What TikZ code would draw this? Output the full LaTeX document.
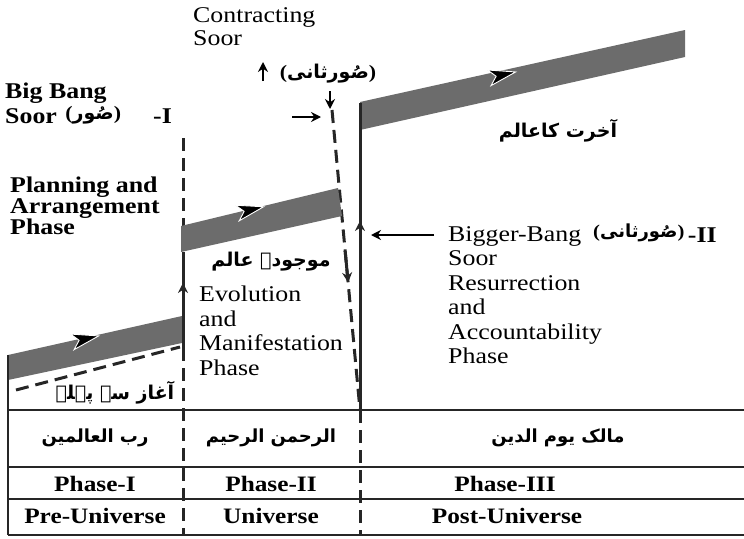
\documentclass[tikz,border=0pt]{standalone}
\usepackage{fontspec}
\setmainfont{Liberation Serif}[FakeStretch=1.15]
\newfontfamily\urdufont[Script=Arabic]{DejaVu Sans}
\TeXXeTstate=1
\usepackage{tikz}
\usetikzlibrary{arrows.meta, calc, positioning}
\definecolor{bandgray}{RGB}{108,108,108}
\definecolor{linedark}{RGB}{38,38,38}
\newcommand\urop{{\rmfamily\bfseries(}}
\newcommand\urcl{{\rmfamily\bfseries)}}
\tikzset{
  >={Stealth[length=10pt,width=10pt]},
  band/.style={fill=bandgray},
  solidline/.style={linedark, line width=3pt},
  dashline/.style={linedark, line width=3pt, dash pattern=on 13pt off 7pt},
  gridline/.style={linedark, line width=2.5pt},
  pointer/.style={->, line width=1.8pt, black},
  lbl/.style={font=\fontsize{22.5}{24.5}\selectfont, align=left, inner sep=0pt},
  boldlbl/.style={font=\fontsize{22.5}{20.5}\selectfont\bfseries, align=left, inner sep=0pt},
  celltext/.style={font=\fontsize{22}{24}\selectfont\bfseries, inner sep=0pt},
  urdulbl/.style={font=\urdufont\bfseries\fontsize{19}{22}\selectfont, inner sep=0pt},
  urducell/.style={font=\urdufont\bfseries\fontsize{18}{22}\selectfont, inner sep=0pt},
  pics/banddart/.style={code={
    \fill[black, draw=white, line width=0.9pt]
      (14,0) -- (-13,-8) -- (-6,0) -- (-13,8) -- cycle;
  }},
}
\begin{document}
\begin{tikzpicture}[x=1pt, y=-1pt]
  \useasboundingbox (0,0) rectangle (744,538);

  % division lines
  \coordinate (bbTop) at (183,138);
  \coordinate (bbBandTop) at (183,226);
  \coordinate (bbBandBot) at (183,252);
  \coordinate (bbMid) at (183,348);
  \coordinate (bbFoot) at (183,535);
  \coordinate (ctTop) at (332,110);
  \coordinate (ctFoot) at (360,410);
  \coordinate (rsTop) at (360,103);
  \coordinate (rsFoot) at (360,410);
  \coordinate (rsTable) at (360,535);

  \draw[dashline] (bbTop) -- (bbBandTop);
  \draw[dashline] (bbMid) -- (bbFoot);
  \draw[dashline] (ctTop) -- (ctFoot);
  \draw[dashline] (rsFoot) -- (rsTable);
  \draw[dashline] (16,390) -- (180,347);

  % bands
  \fill[band] (8,355) -- (182,316) -- (182,343) -- (8,380) -- cycle;
  \fill[band] (181,226) -- (338,188) -- (342,216) -- (181,252) -- cycle;
  \fill[band] (360,102) -- (685,30) -- (685,57) -- (360,130) -- cycle;

  \pic[rotate=12.7] at (85,339) {banddart};
  \pic[rotate=13.4] at (250,210) {banddart};
  \pic[rotate=12.5] at (502,75) {banddart};

  % solid lines with arrows
  \draw[solidline, ->] (bbMid) -- (183,283);
  \draw[solidline] (183,292) -- (bbBandBot);
  \draw[solidline, ->] (rsFoot) -- (360,221);
  \draw[solidline] (360,230) -- (rsTop);
  \draw[solidline, ->] ($(ctTop)!0.47!(ctFoot)$) -- ($(ctTop)!0.575!(ctFoot)$);

  % table
  \draw[gridline] (8,355) -- (8,535);
  \foreach \yr in {410,467,499,535}{
    \draw[gridline] (8,\yr) -- (744,\yr);
  }

  % pointers
  \coordinate (upFrom) at (263,81);
  \coordinate (upTo) at (263,62);
  \coordinate (downFrom) at (330,91);
  \coordinate (downTo) at (330,109);
  \coordinate (rightFrom) at (292,117);
  \coordinate (rightTo) at (321,117);
  \coordinate (leftFrom) at (434,235);
  \coordinate (leftTo) at (371,235);
  \draw[pointer] (upFrom) -- (upTo);
  \draw[pointer] (downFrom) -- (downTo);
  \draw[pointer] (rightFrom) -- (rightTo);
  \draw[pointer] (leftFrom) -- (leftTo);

  % labels
  \node[boldlbl, anchor=base west] (bigbang) at (5,98) {Big Bang};
  \node[boldlbl, anchor=base west] (soorI) at (5,123) {Soor};
  \node[urdulbl, right=8pt of soorI] (soorIur) {\urop\beginR صُور\endR\urcl};
  \node[boldlbl, anchor=base west] (phaseI) at (153,123) {-I};
  \node[lbl, anchor=base west] (contracting) at (193,22) {Contracting};
  \node[lbl, anchor=base west] (soorC) at (193,45) {Soor};
  \node[urdulbl] (soorCur) at (328,74) {\urop\beginR صُورثانی\endR\urcl};
  \node[boldlbl, anchor=north west] (planning) at (10,177)
    {Planning and\\Arrangement\\Phase};
  \node[lbl, anchor=north west] (evolution) at (199,286)
    {Evolution\\and\\Manifestation\\Phase};
  \node[lbl, anchor=north west] (bigger) at (448,226)
    {Bigger-Bang\\Soor\\Resurrection\\and\\Accountability\\Phase};
  \node[urducell, anchor=west] (soorRur) at (593,233) {\urop\beginR صُورثانی\endR\urcl};
  \node[boldlbl, anchor=base west] (phaseII) at ([xshift=3pt]soorRur.east |- 0,242) {-II};
  \node[urdulbl] (akhirat) at (558,131) {\beginR آخرت کاعالم\endR};
  \node[urdulbl] (mojooda) at (271,262) {\beginR موجودہ عالم\endR};
  \node[urdulbl] (aaghaz) at (115,393) {\beginR آغاز سے پہلے\endR};

  % table texts
  \node[urducell] (rab) at (95,438) {\beginR رب العالمین\endR};
  \node[urducell] (rahman) at (271,438) {\beginR الرحمن الرحیم\endR};
  \node[urducell] (malik) at (558,438) {\beginR مالک یوم الدین\endR};
  \node[celltext, anchor=base] (ph1) at (95,491) {Phase-I};
  \node[celltext, anchor=base] (ph2) at (271,491) {Phase-II};
  \node[celltext, anchor=base] (ph3) at (505,491) {Phase-III};
  \node[celltext, anchor=base] (pre) at (95,523) {Pre-Universe};
  \node[celltext, anchor=base] (uni) at (271,523) {Universe};
  \node[celltext, anchor=base] (post) at (507,523) {Post-Universe};
\end{tikzpicture}
\end{document}
